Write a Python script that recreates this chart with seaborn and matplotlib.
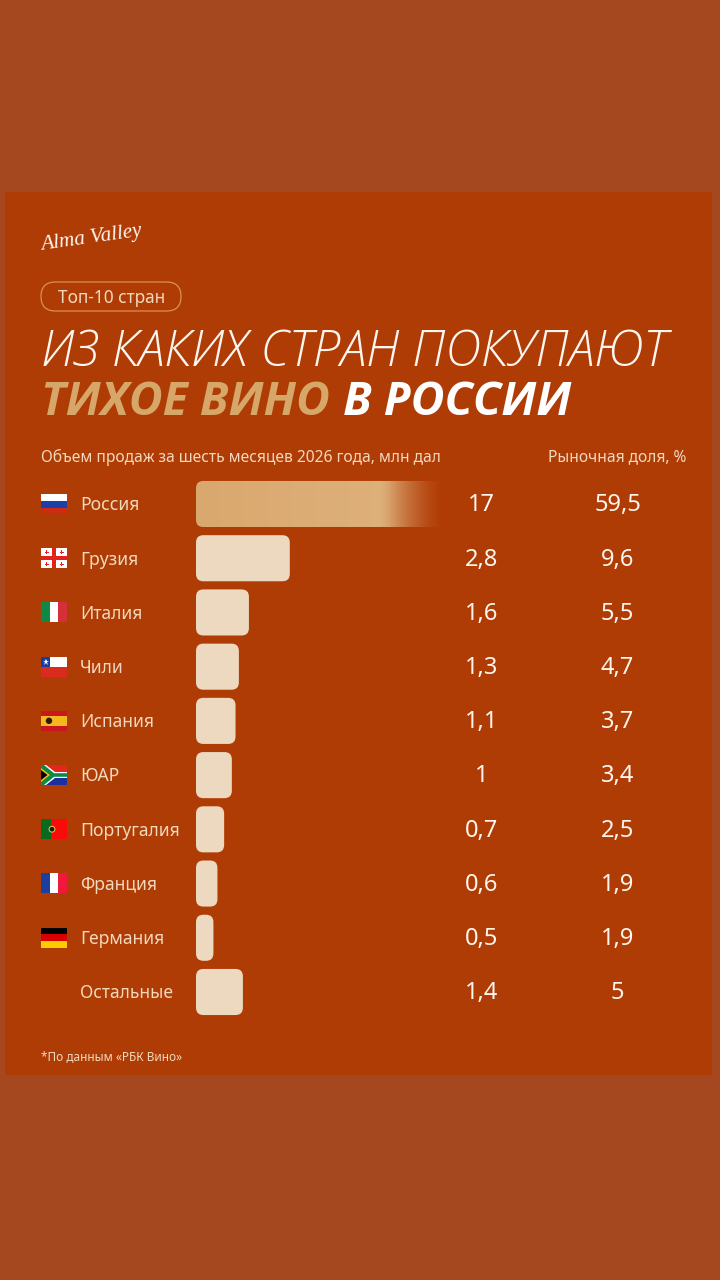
import numpy as np
import matplotlib
matplotlib.use('Agg')
import matplotlib.pyplot as plt
import seaborn as sns
from matplotlib.patches import FancyBboxPatch, Rectangle, Polygon, Circle
from matplotlib.transforms import blended_transform_factory

countries = ['Россия', 'Грузия', 'Италия', 'Чили', 'Испания', 'ЮАР',
             'Португалия', 'Франция', 'Германия', 'Остальные']
# bar lengths as drawn in the picture, they are not quite in scale with the printed labels
volumes = [17, 2.8, 1.58, 1.28, 1.18, 1.07, 0.84, 0.64, 0.52, 1.4]
volume_labels = ['17', '2,8', '1,6', '1,3', '1,1', '1', '0,7', '0,6', '0,5', '1,4']
share_labels = ['59,5', '9,6', '5,5', '4,7', '3,7', '3,4', '2,5', '1,9', '1,9', '5']
flag_codes = ['ru', 'ge', 'it', 'cl', 'es', 'za', 'pt', 'fr', 'de', None]

OUTER = '#A5471F'
PANEL = '#B03C05'
BAR = '#ECD9BF'
GOLD = '#D6A769'
LABEL = '#F2D9BD'
WHITE = '#FDF6EE'
TITLE_FONT = 'Open Sans'

sns.set_style('white')
plt.rcParams['font.family'] = ['Noto Sans', 'DejaVu Sans']

fig = plt.figure(figsize=(7.2, 12.8), dpi=100, facecolor=OUTER)

# background layer works in image pixels
bg = fig.add_axes([0, 0, 1, 1], zorder=0)
bg.set_xlim(0, 720)
bg.set_ylim(1280, 0)
bg.axis('off')
bg.add_patch(Rectangle((5, 192), 707, 883, color=PANEL, lw=0))

# bar layer: 33.5 px per unit, Russia runs off the end and fades
ax = fig.add_axes([196 / 720, 1 - 1019.1 / 1280, 244 / 720, 542.2 / 1280], zorder=1)
ax.patch.set_alpha(0)
sns.barplot(x=volumes, y=countries, orient='h', color=BAR, width=0.85, ax=ax)
ax.set_xlim(0, 244 / 33.5)
ax.set_ylim(9.5, -0.5)
ax.axis('off')

aspect = 33.5 / 54.2
bars = list(ax.patches)
for i, p in enumerate(bars):
    x, y, w, h = p.get_x(), p.get_y(), p.get_width(), p.get_height()
    p.set_visible(False)
    box = FancyBboxPatch((x, y), w, h, boxstyle='round,pad=0,rounding_size=0.22',
                         mutation_aspect=aspect, fc=BAR, ec='none', zorder=3)
    if i == 0:
        box.set_transform(ax.transData)
        xmax = ax.get_xlim()[1]
        grad = np.zeros((1, 244, 4))
        t = np.linspace(0, 1, 244)
        grad[0, :, 0] = np.interp(t, [0, 0.78, 1], [217, 222, 205]) / 255
        grad[0, :, 1] = np.interp(t, [0, 0.78, 1], [168, 176, 120]) / 255
        grad[0, :, 2] = np.interp(t, [0, 0.78, 1], [110, 122, 70]) / 255
        grad[0, :, 3] = np.interp(t, [0, 0.76, 0.8, 1], [1, 1, 0.85, 0])
        im = ax.imshow(grad, extent=(0, xmax, y + h, y), aspect='auto', zorder=3)
        im.set_clip_path(box)
    else:
        ax.add_patch(box)
ax.set_xlim(0, 244 / 33.5)
ax.set_ylim(9.5, -0.5)

# x in pixels, y from the bar axis; small nudge because the font box sits high
row = blended_transform_factory(bg.transData, ax.transData)
nudge = 0.025
for i in range(len(countries)):
    ax.text(80, i + nudge, countries[i], transform=row, color=LABEL, fontsize=12.6,
            va='center', ha='left', clip_on=False)
    ax.text(481.5, i + nudge, volume_labels[i], transform=row, color=WHITE, fontsize=17,
            va='center', ha='center', clip_on=False)
    ax.text(617.5, i + nudge, share_labels[i], transform=row, color=WHITE, fontsize=17,
            va='center', ha='center', clip_on=False)


def flag(code, cy):
    x0, w, h = 41, 26, 20
    y0 = cy - h / 2

    def rect(x, y, rw, rh, c):
        bg.add_patch(Rectangle((x0 + x, y0 + y), rw, rh, color=c, lw=0))

    def poly(pts, c):
        bg.add_patch(Polygon([(x0 + a, y0 + b) for a, b in pts], color=c, lw=0))

    if code == 'ru':
        rect(0, 0, w, 7, '#FFFFFF')
        rect(0, 7, w, 6.5, '#1C3FA8')
        rect(0, 13.5, w, 6.5, '#CF2A14')
    elif code == 'ge':
        rect(0, 0, w, h, '#FFFFFF')
        rect(11, 0, 4, h, '#E3201C')
        rect(0, 8, w, 4, '#E3201C')
        for a, b in [(5.5, 4), (20.5, 4), (5.5, 16), (20.5, 16)]:
            rect(a - 0.7, b - 2, 1.4, 4, '#E3201C')
            rect(a - 2, b - 0.7, 4, 1.4, '#E3201C')
    elif code == 'it':
        rect(0, 0, 9, h, '#0E8A44')
        rect(9, 0, 8, h, '#FFFFFF')
        rect(17, 0, 9, h, '#D5303A')
    elif code == 'cl':
        rect(0, 0, w, 10, '#FFFFFF')
        rect(0, 10, w, 10, '#D92B1E')
        rect(0, 0, 9, 10, '#1A3E9C')
        bg.plot(x0 + 4.5, y0 + 5, marker='*', ms=5, color='#FFFFFF', mew=0)
    elif code == 'es':
        rect(0, 0, w, 5, '#C8171E')
        rect(0, 5, w, 10, '#F6B81C')
        rect(0, 15, w, 5, '#C8171E')
        bg.add_patch(Circle((x0 + 8, y0 + 10), 3.2, color='#2B1A0C', lw=0))
    elif code == 'za':
        rect(0, 0, w, 10, '#E2281C')
        rect(0, 10, w, 10, '#1C2FA0')
        poly([(0, 0), (5, 0), (14, 7), (26, 7), (26, 13), (14, 13), (5, 20), (0, 20)], '#FFFFFF')
        poly([(0, 0), (3, 0), (13, 8.2), (26, 8.2), (26, 11.8), (13, 11.8), (3, 20), (0, 20)], '#0B8A45')
        poly([(0, 3), (9, 10), (0, 17)], '#F6B81C')
        poly([(0, 5), (6.5, 10), (0, 15)], '#000000')
    elif code == 'pt':
        rect(0, 0, 10, h, '#0A6B1E')
        rect(10, 0, 16, h, '#FB0A0A')
        bg.add_patch(Circle((x0 + 11, y0 + 10), 3.4, color='#E8D33A', lw=0))
        bg.add_patch(Circle((x0 + 11, y0 + 10), 2.4, color='#1C1C1C', lw=0))
    elif code == 'fr':
        rect(0, 0, 9, h, '#1C3F9E')
        rect(9, 0, 8, h, '#FFFFFF')
        rect(17, 0, 9, h, '#F0183C')
    elif code == 'de':
        rect(0, 0, w, 6.7, '#000000')
        rect(0, 6.7, w, 6.6, '#D80000')
        rect(0, 13.3, w, 6.7, '#FFCC00')


for i, code in enumerate(flag_codes):
    if code:
        flag(code, 504 + 54.2 * i)

# logo, badge, title
bg.text(40, 250, 'Alma Valley', color=WHITE, fontsize=15.3, family='Liberation Serif',
        style='italic', rotation=8, va='baseline', ha='left')
bg.add_patch(FancyBboxPatch((41, 282), 140, 29, boxstyle='round,pad=0,rounding_size=14.5',
                            fc='none', ec='#DE8F55', lw=0.9))
bg.text(58, 298, 'Топ-10 стран', color=LABEL, fontsize=12.4, va='center', ha='left')

bg.text(41, 366, 'ИЗ КАКИХ СТРАН ПОКУПАЮТ', color=WHITE, fontsize=35.7, family=TITLE_FONT,
        weight='light', style='italic', va='baseline', ha='left')
t1 = bg.text(41, 415, 'ТИХОЕ ВИНО', color=GOLD, fontsize=33.4, family=TITLE_FONT,
             weight='bold', style='italic', va='baseline', ha='left')
fig.canvas.draw()
end = bg.transData.inverted().transform(t1.get_window_extent().get_points())[1, 0]
bg.text(end + 13, 415, 'В РОССИИ', color='#FFFFFF', fontsize=33.4, family=TITLE_FONT,
        weight='bold', style='italic', va='baseline', ha='left')

bg.text(41, 457, 'Объем продаж за шесть месяцев 2026 года, млн дал', color=LABEL,
        fontsize=11.2, va='center', ha='left')
bg.text(686, 457, 'Рыночная доля, %', color=LABEL, fontsize=11.2, va='center', ha='right')
bg.text(41, 1056.5, '*По данным «РБК Вино»', color=LABEL, fontsize=8.5, va='center', ha='left')

fig.savefig('out.png', dpi=100, facecolor=OUTER)
